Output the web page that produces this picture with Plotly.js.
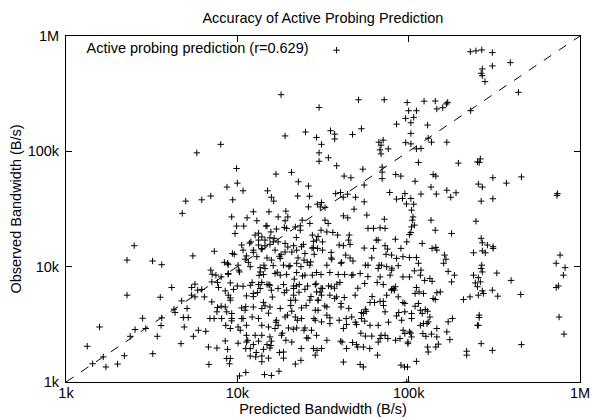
<!DOCTYPE html>
<html>
<head>
<meta charset="utf-8">
<script src="https://cdn.plot.ly/plotly-3.0.1.min.js"></script>
<style>html,body{margin:0;padding:0;background:#fff;}</style>
</head>
<body>
<div id="chart" style="width:592px;height:418px;"></div>
<script>
// Predicted bandwidth (B/s)
const predicted = [
5800,8000,9900,8700,5000,6200,7000,9400,
18000,51000,72000,98000,100000,30000,96000,85000,19000,25000,29000,35000,37000,37000,47000,53000,31000,30000,30000,34000,38000,42000,46000,54000,67000,71000,69000,68000,76000,69000,96000,70000,70000,70000,84000,90000,55000,55000,49000,44000,41500,40000,37500,77500,95000,85000,92000,97000,10000,10800,16800,20700,22700,26000,15000,15800,16300,22500,26400,26000,29300,31000,30500,32500,48000,
229000,247000,267000,308000,308000,392000,269000,265000,269000,279000,437000,230000,123000,143000,169000,166000,146000,158000,111000,107000,103000,129000,103000,130000,136000,167000,103000,111000,118000,114000,195000,252000,262000,258000,139000,144000,310000,455000,372000,109000,135000,255000,269000,167000,189000,176000,118000,145000,103000,107000,265000,310000,738000,734000,
4770,2500,2270,3200,3620,5500,7340,9360,2270,3550,4140,2800,1570,2530,2920,3620,3590,2370,3410,1330,1650,1430,1710,2000,2190,3210,4690,4270,4330,4730,5090,4840,5170,4900,5540,5920,6540,5410,5660,5410,5660,5870,6200,6420,7100,6920,7320,7000,7130,7500,8050,7100,7660,8850,8400,8770,7770,8500,9100,8850,9100,8050,7660,7600,8500,9270,8100,9270,8560,9100,8500,6780,7600,8770,8670,9100,6830,9000,9500,9270,9700,
12400,15300,19200,11400,17300,19700,23900,13000,19000,9900,14900,16900,19400,21800,23300,23300,26500,27400,27800,12700,13900,13300,14500,15500,12000,16200,17300,19000,10600,13300,14500,15500,21300,23700,27800,10800,12400,13900,16600,19000,20800,22200,24800,28100,9600,11300,11100,13000,14900,15800,17800,24500,26800,8850,10100,11900,13600,14500,16200,18600,20300,22200,23500,26500,8850,10300,13600,14200,16600,17800,19400,22200,24800,27400,29000,10000,11900,13300,13900,14900,15500,18600,21300,23000,25700,28500,
57000,41600,44100,72100,32500,33900,57900,62300,68100,72800,30800,33300,38500,45000,83600,29000,31400,44600,66400,97500,39300,41600,45500,62300,72800,75300,90100,29400,31400,35300,42900,45500,79500,85000,92600,35300,47300,60900,69500,74400,33300,40300,55900,57900,86900,66400,79500,30800,34700,38800,42300,46500,52100,68100,77900,92600,39700,55400,71100,34100,83600,30800,36900,79500,
9100,11300,12400,13600,15800,17300,19400,21300,21300,21800,24800,26500,29600,8670,10600,11100,12400,13900,14500,15500,17800,20800,23700,28500,9270,10600,12200,13300,16900,19000,21800,23700,28500,10100,11300,13900,15200,16600,17300,19900,22200,24800,11300,12700,13900,15500,18100,27100,29000,25400,11300,12400,13300,14900,15800,20800,11200,11900,14200,15500,18600,27800,28500,11900,12800,13900,15200,18600,23500,21800,10300,11200,14400,15800,17500,
29000,31400,35300,31000,34700,38000,48700,29600,32400,33300,40300,40300,55900,59500,63200,68100,71100,74400,79500,81300,86900,95000,92600,30400,29600,33300,34700,39300,46500,53000,54400,53000,55400,59500,66400,72800,85000,91000,95000,31000,34700,41600,43400,49600,55900,60900,69000,72800,75600,68100,66400,54400,49600,31000,33300,40900,40100,43400,89000,95000,50400,65800,41600,52100,90100,94500,98400,54400,97500,
117000,104000,106000,105000,108000,104000,178000,247000,135000,143000,103000,120000,137000,144000,146000,239000,265000,269000,288000,311000,311000,269000,280000,765000,101000,111000,101000,160000,162000,165000,114000,118000,108000,117000,133000,101000,124000,137000,178000,170000,185000,262000,267000,265000,269000,255000,239000,245000,252000,269000,273000,255000,228000,209000,308000,331000,327000,396000,451000,726000,726000,818000,800000,748000,755000,807000,455000,308000,265000,218000,218000,255000,258000,258000,252000,170000,180000,167000,174000,149000,144000,146000,136000,129000,130000,126000,121000,111000,104000,99000,99000,103000,
101000,109000,115000,122000,139000,146000,153000,143000,109000,114000,125000,129000,104000,120000,133000,104000,117000,130000,128000,146000,122000,111000,
10800,11600,12200,13100,14200,15200,16000,16800,18300,19600,20500,22100,24000,25600,27300,29600,10900,11800,13300,14700,16400,18000,20000,21500,22900,25200,28000,10400,11500,12900,13900,15700,17600,19200,21200,23600,25900,29200,10100,10800,11200,12400,13400,14300,15300,17100,18800,20500,22400,24500,26900,28800,10200,12400,13900,17600,19700,22600,24300,15700,18800,22100,
35600,38100,42100,44700,48800,52600,56500,61200,65500,71300,76200,82600,87500,92800,37000,43200,50500,57800,67200,73800,79800,47300,40600,55000,64700,36100,47000,59300,83900
];
// Observed bandwidth (B/s)
const observed = [
97000,115000,71000,49000,37000,38000,41000,38000,
310000,280000,280000,265000,225000,240000,193000,172000,136000,147000,132000,151000,141000,128000,140000,157000,115000,97000,82000,88000,75000,61000,59000,70000,120000,125000,113000,103000,105000,95000,119000,73000,66000,58000,63000,61000,51000,36500,40000,42500,40000,44000,43000,44000,43000,38500,39000,35000,53000,45500,63500,65700,54500,50000,45500,40000,37000,41000,40800,33000,34800,36000,33000,32500,31500,
730000,743000,757000,718000,550000,588000,518000,475000,453000,402000,325000,225000,272000,273000,266000,258000,233000,239000,225000,197000,177000,169000,143000,130000,120000,120000,116000,105000,106000,80000,79000,81000,86000,80000,63000,61000,59000,60000,53000,55000,49000,52000,49000,46000,43700,40000,42600,42600,39000,34800,37000,38800,43000,41500,
29000,15200,11400,11200,10400,12400,13600,13000,5660,5430,6600,3570,3000,2850,2910,3600,3090,2490,2490,2040,1650,1440,1350,1430,1690,1760,2150,4280,4000,5050,4340,3620,3620,3000,2490,2810,2750,6600,7050,5660,5470,6250,6350,5470,4950,3550,3550,9330,8600,8440,8150,7380,7300,8600,10900,10700,6600,6170,7230,5660,5120,4540,4420,4060,4470,3930,3550,3390,3100,2910,2270,2010,1970,1920,1600,1600,1420,1440,6350,27000,19400,
29900,29900,30300,26500,27000,27000,25300,25000,25000,22500,22600,21200,21500,22100,22600,20700,23700,18800,16600,18800,18100,17000,17000,17800,16400,16400,16400,15900,15400,15400,15200,15600,15200,14900,14600,13900,13900,14200,13900,13400,13400,13900,13000,12800,12800,12400,11600,12200,11900,11400,11800,11400,11000,10400,10300,10000,9800,9650,10200,10300,10200,10700,10000,10300,8730,9000,9000,8550,8730,8440,8550,8900,8440,8440,8900,6800,6900,7000,7300,7000,6900,7000,6800,7000,6800,7000,
28000,27600,26500,25800,25300,23700,21500,21500,21700,21500,20700,20000,18800,18800,17300,17000,16400,17000,17000,16400,15400,15200,15600,14400,15200,14200,14400,14400,13900,13300,12600,11900,12600,11800,12200,11900,11200,11900,10300,10000,10300,10700,10300,10300,10200,9650,9330,8550,8900,8550,8550,8440,8730,8150,8440,8150,7300,7140,7000,6800,6700,6500,6500,6360,
5360,5580,5850,6470,6250,6470,6250,6470,5660,5120,6360,5120,5120,4060,4390,4190,4470,4340,4570,4470,4340,4110,4390,4190,3550,3550,3660,3550,3430,3660,3660,3550,3430,3000,3100,3100,3000,2910,3100,2940,2940,2940,2540,2540,2540,2460,2540,2810,2540,2410,2220,2110,2260,2110,2260,2220,1950,1950,1920,1970,1820,1950,1710,1680,1650,1680,1610,1610,1540,1430,1130,1210,1160,1140,1240,
6040,6470,6700,5660,5660,5470,5660,5120,4570,4470,4800,4470,4270,4890,4890,5000,5000,5660,6250,6470,5470,4800,4890,6040,4190,3800,3600,3430,3660,4000,3930,3550,3370,3100,3100,4060,3740,3430,4060,3320,3210,2910,3150,3150,2500,2500,2540,2540,2380,2380,2220,2010,2110,1950,2300,2220,2260,1950,2380,2630,2010,1710,1490,1420,1400,1350,1350,1350,1000,4190,
30900,27000,25300,22900,22100,19400,24800,25300,20700,19800,15900,14400,14700,13900,13200,17600,16100,15400,14400,14900,13700,13200,12600,19000,12000,12000,10700,12600,11600,10700,9330,9200,8440,7900,8150,7600,7460,7380,9100,8440,7380,10300,9650,9000,8040,8440,7230,6700,6170,5850,5660,5470,5190,6250,5550,8800,7600,5740,6600,10700,9800,8440,6800,3660,2600,2110,1880,2150,1710,1850,3100,3800,3620,3100,3320,3550,2720,2330,2130,2010,2460,2600,2010,1820,2490,2630,1510,2460,2220,2150,2660,2720,
5850,6040,5850,5300,5940,6040,5190,4540,4800,4250,4110,3930,3930,3660,3550,3100,3320,3210,2910,3210,6600,6760,
10900,7300,5950,4900,3950,5450,3300,2650,3800,5100,6800,8300,10900,14500,18300,22500,16000,19500,22500,17600,12800,10000,7800,6000,4600,3550,2810,2300,1800,1500,2070,1800,2300,2870,1950,2400,1880,2170,3550,4500,5500,8400,10300,7000,8950,5950,4600,3430,2810,5500,7100,9330,13300,14400,12300,14800,11900,15600,20000,21900,17900,11600,
7050,5400,4350,3300,2650,4100,5500,7300,4600,3300,6250,4000,2810,5300,3550,6500,8200,10300,12800,9700,8500,10900,14500,17000,19800,2200,1950,2300,2070
];
// Reference line y = x
const refLine = [1000, 1000000];
const tickVals = [1000, 10000, 100000, 1000000];
const tickText = ['1k', '10k', '100k', '1M'];

const font = {family: 'Liberation Sans, Arial, sans-serif', size: 14.5, color: '#000'};

const traces = [
  {
    x: predicted, y: observed, type: 'scatter', mode: 'markers',
    name: ' ',
    marker: {symbol: 'cross-thin-open', size: 4.6, color: '#000', line: {width: 1, color: '#000'}},
    hoverinfo: 'x+y'
  },
  {
    x: refLine, y: refLine, type: 'scatter', mode: 'lines',
    showlegend: false, hoverinfo: 'skip',
    line: {color: '#000', width: 1, dash: 'dash'}
  }
];

const axisCommon = {
  type: 'log',
  range: [3, 6],
  tickvals: tickVals,
  ticktext: tickText,
  ticks: 'inside',
  ticklen: 6,
  tickwidth: 1,
  tickcolor: '#000',
  showline: true,
  linecolor: '#000',
  linewidth: 1,
  mirror: 'ticks',
  showgrid: false,
  zeroline: false,
  tickfont: font
};

const layout = {
  width: 592, height: 418,
  margin: {l: 66, r: 12, t: 36, b: 36},
  paper_bgcolor: '#fff', plot_bgcolor: '#fff',
  font: font,
  title: {text: 'Accuracy of Active Probing Prediction', font: font, x: 0.5455, xanchor: 'center', y: 0.958, yanchor: 'middle'},
  xaxis: Object.assign({}, axisCommon, {ticklabelstandoff: -2, title: {text: 'Predicted Bandwidth (B/s)', font: font, standoff: 0}}),
  yaxis: Object.assign({}, axisCommon, {ticklabelstandoff: 3, title: {text: 'Observed Bandwidth (B/s)', font: font, standoff: 2}}),
  showlegend: true,
  legend: {
    x: 0.036, y: 1.005, xanchor: 'left', yanchor: 'top',
    bgcolor: 'rgba(0,0,0,0)', borderwidth: 0,
    title: {text: 'Active probing prediction (r=0.629)', side: 'left', font: font},
    font: font
  }
};

Plotly.newPlot('chart', traces, layout, {displayModeBar: false, staticPlot: true});
</script>
</body>
</html>
